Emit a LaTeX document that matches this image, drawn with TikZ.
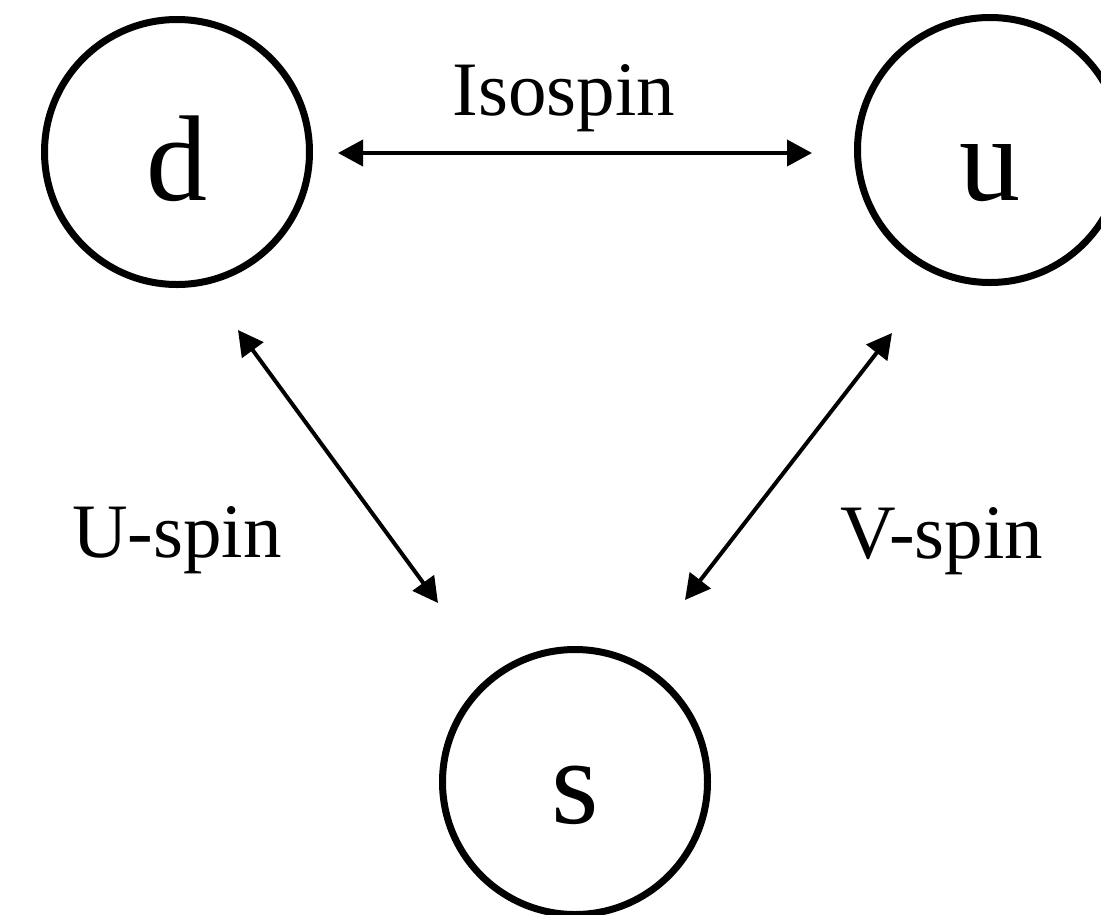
\documentclass[tikz,border=0pt]{standalone}
\usepackage{fontspec}
\setmainfont{Liberation Serif}
\usetikzlibrary{arrows.meta}
\begin{document}
\begin{tikzpicture}[x=1pt,y=-1pt,
  quark/.style={circle,draw,line width=7pt,minimum size=265pt,inner sep=0pt,
    font=\fontsize{122}{122}\selectfont,text depth=0pt},
  link/.style={{Triangle[length=25pt,width=26pt]}-{Triangle[length=25pt,width=26pt]},line width=4pt},
  lbl/.style={anchor=base,inner sep=0pt,font=\fontsize{77}{77}\selectfont}]
\useasboundingbox (0,0) rectangle (1101,914);
\clip (0,0) rectangle (1101,914);
\node[quark,text height=96pt] (d) at (177,152) {d};
\node[quark,text height=100pt] (u) at (990,150) {u};
\node[quark,text height=82pt] (s) at (575,782) {s};
\coordinate (dR) at ([shift={(161,1)}]d.center);
\coordinate (uL) at ([shift={(-178,3)}]u.center);
\coordinate (dS) at ([shift={(61,178)}]d.center);
\coordinate (sD) at ([shift={(-137,-179)}]s.center);
\coordinate (uS) at ([shift={(-98,183)}]u.center);
\coordinate (sU) at ([shift={(110,-182)}]s.center);
\draw[link] (dR) -- (uL);
\draw[link] (dS) -- (sD);
\draw[link] (uS) -- (sU);
\node[lbl] (iso) at (564,115) {Isospin};
\node[lbl] (U) at (177,557) {U-spin};
\node[lbl] (V) at (942,558) {V-spin};
\end{tikzpicture}
\end{document}
